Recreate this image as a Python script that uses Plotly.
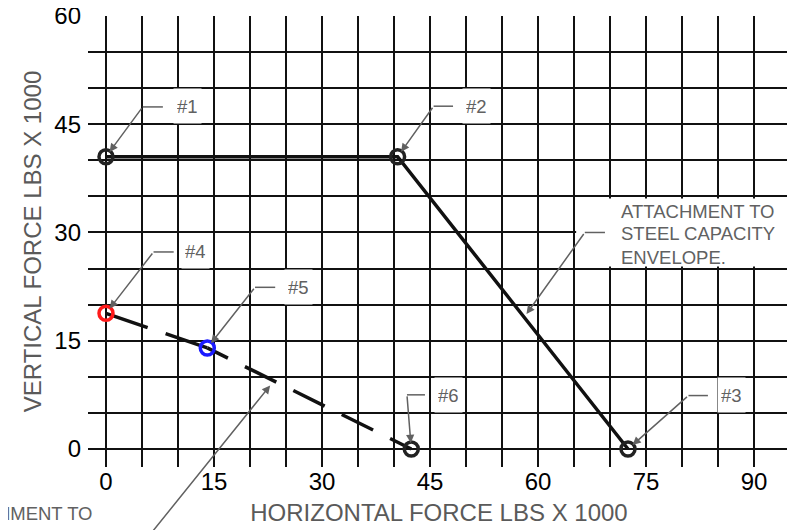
import plotly.graph_objects as go

# ---------------- data ----------------
env_x = [0, 40.5, 72.5]            # steel capacity envelope points #1, #2, #3
env_y = [40.5, 40.5, 0]
env_ids = ["#1", "#2", "#3"]

dash_x = [0, 14.07, 42.4]          # points #4, #5, #6
dash_y = [18.8, 14.0, 0]
dash_ids = ["#4", "#5", "#6"]
dash_colors = ["#ff1a1a", "#1a1aff", "#222222"]

x_ticks = list(range(0, 100, 5))
y_ticks = list(range(0, 65, 5))
x_labels = [str(v) if v % 15 == 0 else "" for v in x_ticks]
y_labels = [str(v) if v % 15 == 0 else "" for v in y_ticks]

x_title = "HORIZONTAL FORCE LBS X 1000"
y_title = "VERTICAL FORCE LBS X 1000"

# callout leaders: label, elbow x, elbow y, end x, text x, text y
callouts = {
    "#1": (5.1, 47.4, 7.9, 9.3, 47.5),
    "#2": (45.5, 47.5, 48.2, 49.5, 47.5),
    "#3": (80.9, 7.4, 83.6, 84.9, 7.5),
    "#4": (6.6, 27.3, 9.4, 10.4, 27.5),
    "#5": (20.7, 22.4, 23.5, 24.7, 22.5),
    "#6": (41.8, 7.5, 44.3, 45.6, 7.5),
}
env_note = ["ATTACHMENT TO", "STEEL CAPACITY", "ENVELOPE."]
env_note_y = [32.9, 29.8, 26.6]
env_note_x = 71.2
env_arrow = (58.4, 18.7, 66.5, 30.0, 69.3)   # tip x, tip y, elbow x, elbow y, end x

low_note = ["ATTACHMENT TO", "CONCRETE CAPACITY"]
low_arrow = (22.8, 8.8, 5.2, -13.0)

GRAY = "#616161"
FONT = "Liberation Sans, Arial, sans-serif"

fig = go.Figure()

# envelope solid line
fig.add_trace(go.Scatter(x=env_x, y=env_y, mode="lines",
                         line=dict(color="#111111", width=3.5),
                         hoverinfo="skip", showlegend=False))
# dashed line, two segments
fig.add_trace(go.Scatter(x=dash_x[0:2], y=dash_y[0:2], mode="lines",
                         line=dict(color="#111111", width=3.5, dash="44px,19px,60px"),
                         hoverinfo="skip", showlegend=False))
fig.add_trace(go.Scatter(x=dash_x[1:3], y=dash_y[1:3], mode="lines",
                         line=dict(color="#111111", width=3.5,
                                   dash="23px,19px,35px,19px,35px,19px,35px,19px,40px"),
                         hoverinfo="skip", showlegend=False))
# markers
fig.add_trace(go.Scatter(x=env_x, y=env_y, mode="markers",
                         marker=dict(symbol="circle-open", size=14, color="#222222",
                                     line=dict(width=3.5)),
                         hoverinfo="skip", showlegend=False))
fig.add_trace(go.Scatter(x=dash_x, y=dash_y, mode="markers",
                         marker=dict(symbol="circle-open", size=14, color=dash_colors,
                                     line=dict(width=3.5)),
                         hoverinfo="skip", showlegend=False))

annotations = []
shapes = []

all_pts = dict(zip(env_ids + dash_ids, zip(env_x + dash_x, env_y + dash_y)))
for lab, (ex, ey, endx, tx, ty) in callouts.items():
    px_, py_ = all_pts[lab]
    annotations.append(dict(x=px_, y=py_, xref="x", yref="y", ax=ex, ay=ey,
                            axref="x", ayref="y", text="", showarrow=True,
                            arrowhead=2, arrowsize=1.1, arrowwidth=1.5,
                            arrowcolor=GRAY, standoff=6))
    shapes.append(dict(type="line", xref="x", yref="y", x0=ex, y0=ey, x1=endx, y1=ey,
                       line=dict(color=GRAY, width=1.5), layer="above"))
    annotations.append(dict(x=tx, y=ty, xref="x", yref="y", text=lab, showarrow=False,
                            xanchor="left", yanchor="middle", bgcolor="white",
                            borderpad=3, height=28,
                            font=dict(family=FONT, size=18.5, color=GRAY)))

# envelope note
shapes.append(dict(type="rect", xref="x", yref="y", x0=65.3, x1=94.7, y0=25.3, y1=34.7,
                   fillcolor="white", line=dict(width=0), layer="between"))
tx_, ty_, ex_, ey_, endx_ = env_arrow
annotations.append(dict(x=tx_, y=ty_, xref="x", yref="y", ax=ex_, ay=ey_,
                        axref="x", ayref="y", text="", showarrow=True,
                        arrowhead=2, arrowsize=1.1, arrowwidth=1.5,
                        arrowcolor=GRAY, standoff=0))
shapes.append(dict(type="line", xref="x", yref="y", x0=ex_, y0=ey_, x1=endx_, y1=ey_,
                   line=dict(color=GRAY, width=1.5), layer="above"))
for line_txt, ly in zip(env_note, env_note_y):
    annotations.append(dict(x=env_note_x, y=ly, xref="x", yref="y", text=line_txt,
                            showarrow=False, xanchor="left", yanchor="middle",
                            font=dict(family=FONT, size=18.5, color=GRAY)))

# lower-left (cut-off) note
ltx, lty, lax, lay = low_arrow
annotations.append(dict(x=ltx, y=lty, xref="x", yref="y", ax=lax, ay=lay,
                        axref="x", ayref="y", text="", showarrow=True,
                        arrowhead=2, arrowsize=1.1, arrowwidth=1.5,
                        arrowcolor=GRAY, standoff=0))
for i, line_txt in enumerate(low_note):
    annotations.append(dict(x=-0.215, y=-0.102 - 0.056 * i, xref="paper", yref="paper",
                            text=line_txt, showarrow=False, xanchor="left",
                            yanchor="middle",
                            font=dict(family=FONT, size=18.5, color=GRAY)))

# the page body adds an 8px offset, so the figure is 8px smaller on each side
fig.update_layout(
    template="none",
    width=787, height=522,
    margin=dict(l=80, r=5, t=8, b=63, pad=0),
    paper_bgcolor="white", plot_bgcolor="white",
    font=dict(family=FONT),
    shapes=shapes, annotations=annotations,
    xaxis=dict(range=[-2.5, 95], tickmode="array", tickvals=x_ticks, ticktext=x_labels,
               showgrid=True, gridcolor="#111111", gridwidth=2, zeroline=False,
               showline=False, ticks="", tickfont=dict(size=24, color="#000000"),
               automargin=False, ticklabeloverflow="allow", ticklabelstandoff=-2,
               title=dict(text=x_title, font=dict(size=24, color="#5a5a5a"), standoff=10)),
    yaxis=dict(range=[-2.5, 60], tickmode="array", tickvals=y_ticks, ticktext=y_labels,
               showgrid=True, gridcolor="#111111", gridwidth=2, zeroline=False,
               showline=False, ticks="", tickfont=dict(size=24, color="#000000"),
               automargin=False, ticklabelstandoff=6, ticklabeloverflow="allow",
               title=dict(text=y_title, font=dict(size=24, color="#5a5a5a"), standoff=5)),
)

fig.write_html("out.html")
